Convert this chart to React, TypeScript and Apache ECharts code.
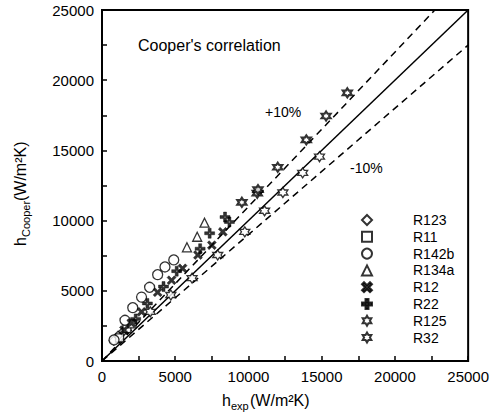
import React, { useEffect, useRef } from "react";
import * as echarts from "echarts";

const FONT = "'Liberation Sans', Arial, sans-serif";

const seriesNames = ["R123", "R11", "R142b", "R134a", "R12", "R22", "R125", "R32"];

const r123: number[][] = [[800, 1450], [1100, 1800], [1450, 2100]];
const r11: number[][] = [[1200, 1650], [1700, 2300], [2050, 2650]];
const r142b: number[][] = [[820, 1500], [1570, 2900], [2100, 3800], [2700, 4550], [3250, 5250], [3800, 6150], [4300, 6700], [4900, 7200]];
const r134a: number[][] = [[5800, 8100], [6500, 8850], [7000, 9850]];
const r12: number[][] = [[1500, 2200], [2000, 2700], [2700, 3500], [3800, 4900], [4750, 5750], [5500, 6600], [6550, 7550], [7500, 8250], [8250, 9200]];
const r22: number[][] = [[2300, 3000], [3100, 4100], [4200, 5300], [5100, 6400], [6700, 8000], [7350, 9100], [8400, 10250], [8700, 9900]];
const r125: number[][] = [[3300, 3500], [4700, 4700], [6150, 5900], [7900, 7550], [9750, 9200], [11100, 10700], [12350, 12000], [13700, 13400], [14850, 14550]];
const r32: number[][] = [[9550, 11300], [10600, 11950], [10650, 12200], [12000, 13800], [13950, 15750], [15300, 17450], [16750, 19100]];

const perfect: number[][] = [[0, 0], [25000, 25000]];
const plus10: number[][] = [[0, 0], [22727, 25000]];
const minus10: number[][] = [[0, 0], [25000, 22500]];

const X_PATH = "path://M2,0L5,3L8,0L10,2L7,5L10,8L8,10L5,7L2,10L0,8L3,5L0,2Z";
const PLUS_PATH = "path://M3.5,0H6.5V3.5H10V6.5H6.5V10H3.5V6.5H0V3.5H3.5ZM4.3,4.3V5.7H5.7V4.3Z";
const STAR_PATH = "path://M5,0L6.443,2.5L9.33,2.5L7.887,5L9.33,7.5L6.443,7.5L5,10L3.557,7.5L0.67,7.5L2.113,5L0.67,2.5L3.557,2.5Z";

export default function App() {
  const ref = useRef<HTMLDivElement>(null);
  useEffect(() => {
    document.body.style.margin = "0";
    if (!ref.current) return;
    const chart = echarts.init(ref.current, null, { renderer: "svg" });
    const open = (w = 1.3) => ({ color: "#fff", borderColor: "#000", borderWidth: w });
    const filled = { color: "#000", borderColor: "#000", borderWidth: 0.5 };
    const scatter = (name: string, data: number[][], symbol: string, size: number, style: any) => ({
      name, type: "scatter", data, symbol, symbolSize: size, itemStyle: style, z: 5,
    });
    const line = (data: number[][], type: any) => ({
      type: "line", data, symbol: "none", silent: true, z: 2,
      lineStyle: { color: "#000", width: 1.5, type },
    });
    const axisCommon = {
      type: "value", min: 0, max: 25000, interval: 2500,
      axisLine: { lineStyle: { color: "#000", width: 2 } },
      axisTick: { inside: true, length: 5, lineStyle: { color: "#000", width: 1.5 } },
      splitLine: { show: false },
      axisLabel: {
        color: "#000", fontSize: 15, fontFamily: FONT, margin: 8,
        formatter: (v: number) => (v % 5000 === 0 ? String(v) : ""),
      },
    };
    chart.setOption({
      animation: false,
      grid: { left: 102, right: 23, top: 10, bottom: 57, show: true, borderColor: "#000", borderWidth: 2 },
      xAxis: axisCommon,
      yAxis: axisCommon,
      legend: {
        orient: "vertical", left: 356, top: 208, itemWidth: 10, itemHeight: 10, itemGap: 2.8,
        data: seriesNames,
        textStyle: { color: "#000", fontSize: 14, lineHeight: 14, fontFamily: FONT, padding: [0, 0, 0, 36] },
      },
      series: [
        line(perfect, "solid"),
        line(plus10, [7, 5]),
        line(minus10, [7, 5]),
        scatter("R123", r123, "diamond", 9, open()),
        scatter("R11", r11, "rect", 8, open()),
        scatter("R142b", r142b, "circle", 10, open()),
        scatter("R134a", r134a, "triangle", 9, open()),
        scatter("R12", r12, X_PATH, 9, filled),
        scatter("R22", r22, PLUS_PATH, 10, filled),
        scatter("R125", r125, STAR_PATH, 10, open(1.3)),
        scatter("R32", r32, STAR_PATH, 9, open(2.2)),
      ],
      graphic: [
        { type: "text", left: 138, top: 37, style: { text: "Cooper's correlation", fontSize: 16, fontFamily: FONT, fill: "#000" } },
        { type: "text", left: 265, top: 105, style: { text: "+10%", fontSize: 14, fontFamily: FONT, fill: "#000" } },
        { type: "text", left: 350, top: 161, style: { text: "-10%", fontSize: 14, fontFamily: FONT, fill: "#000" } },
        {
          type: "group", x: 222, y: 392,
          children: [
            { type: "text", x: 0, y: 0, style: { text: "h", fontSize: 16, fontFamily: FONT, fill: "#000" } },
            { type: "text", x: 9, y: 8, style: { text: "exp", fontSize: 11, fontFamily: FONT, fill: "#000" } },
            { type: "text", x: 28, y: 0, style: { text: "(W/m²K)", fontSize: 16, fontFamily: FONT, fill: "#000" } },
          ],
        },
        {
          type: "group", x: 12, y: 246, rotation: Math.PI / 2,
          children: [
            { type: "text", x: 0, y: 0, style: { text: "h", fontSize: 16, fontFamily: FONT, fill: "#000" } },
            { type: "text", x: 9, y: 8, style: { text: "Cooper", fontSize: 11, fontFamily: FONT, fill: "#000" } },
            { type: "text", x: 45, y: 0, style: { text: "(W/m²K)", fontSize: 16, fontFamily: FONT, fill: "#000" } },
          ],
        },
      ],
    });
    return () => chart.dispose();
  }, []);
  return <div ref={ref} style={{ width: 492, height: 418, background: "#fff" }} />;
}
